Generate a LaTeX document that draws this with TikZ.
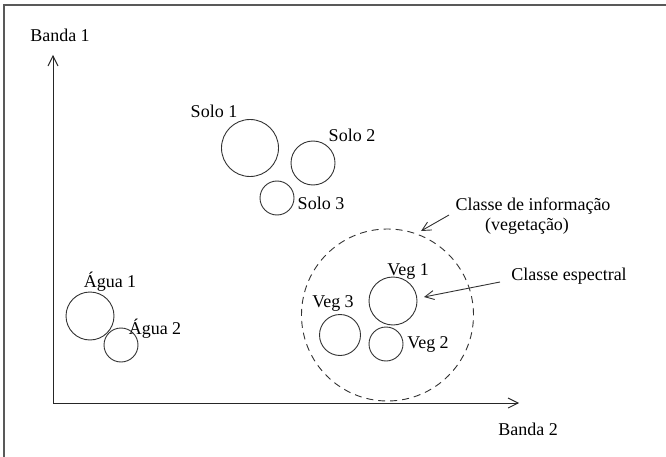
\documentclass[tikz,border=0pt]{standalone}
\usepackage{fontspec}
\setmainfont{Liberation Serif}
\usetikzlibrary{arrows.meta}
\begin{document}
\begin{tikzpicture}[x=1pt,y=-1pt,
  lbl/.style={inner sep=0pt,anchor=base,font=\fontsize{18}{20}\selectfont},
  cls/.style={circle,draw=black!80,line width=0.9pt,inner sep=0pt,minimum size=#1},
  axis/.style={draw=black!85,line width=0.9pt,-{Straight Barb[length=10pt,width=10pt,line width=0.9pt]}},
  pointer/.style={draw=black!80,line width=0.9pt,-{Straight Barb[length=9pt,width=9pt,line width=0.9pt]}}]
\useasboundingbox (0,0) rectangle (666,457);
% frame edges
\draw[black!65,line width=1.5pt] (4,457) -- (4,5) -- (666,5);

% axes
\coordinate (O) at (53,403);
\coordinate (Ytip) at (53,55);
\coordinate (Xtip) at (519,403);
\draw[axis] (O) -- (Ytip);
\draw[axis] (O) -- (Xtip);
\node[lbl] (b1) at (60,42) {Banda 1};
\node[lbl] (b2) at (528,435) {Banda 2};

% water
\node[cls=48pt] (a1) at (90,316) {};
\node[cls=34pt] (a2) at (121,345) {};
\node[lbl] (la1) at (110,287) {Água 1};
\node[lbl] (la2) at (155,334) {Água 2};

% soil
\node[cls=57pt] (s1) at (250,148) {};
\node[cls=44pt] (s2) at (313,163) {};
\node[cls=34pt] (s3) at (277,198) {};
\node[lbl] (ls1) at (214,118) {Solo 1};
\node[lbl] (ls2) at (352,142) {Solo 2};
\node[lbl] (ls3) at (321,209) {Solo 3};

% vegetation
\node[circle,draw=black!80,line width=0.9pt,dash pattern=on 7pt off 5pt,inner sep=0pt,minimum size=172pt] (veg) at (387.5,315) {};
\node[cls=48pt] (v1) at (393,301) {};
\node[cls=34pt] (v2) at (386,344) {};
\node[cls=41pt] (v3) at (340,335) {};
\node[lbl] (lv1) at (408,275) {Veg 1};
\node[lbl] (lv2) at (428,348) {Veg 2};
\node[lbl] (lv3) at (333,307) {Veg 3};

% annotations
\node[lbl] (info) at (533,210) {Classe de informação};
\node[lbl] (info2) at (527,230) {(vegetação)};
\node[lbl] (esp) at (569,280) {Classe espectral};
\coordinate (infoStart) at (449,215);
\coordinate (infoEnd) at (421,231);
\coordinate (espStart) at (500,282);
\coordinate (espEnd) at (424,297);
\draw[pointer] (infoStart) -- (infoEnd);
\draw[pointer] (espStart) -- (espEnd);
\end{tikzpicture}
\end{document}
